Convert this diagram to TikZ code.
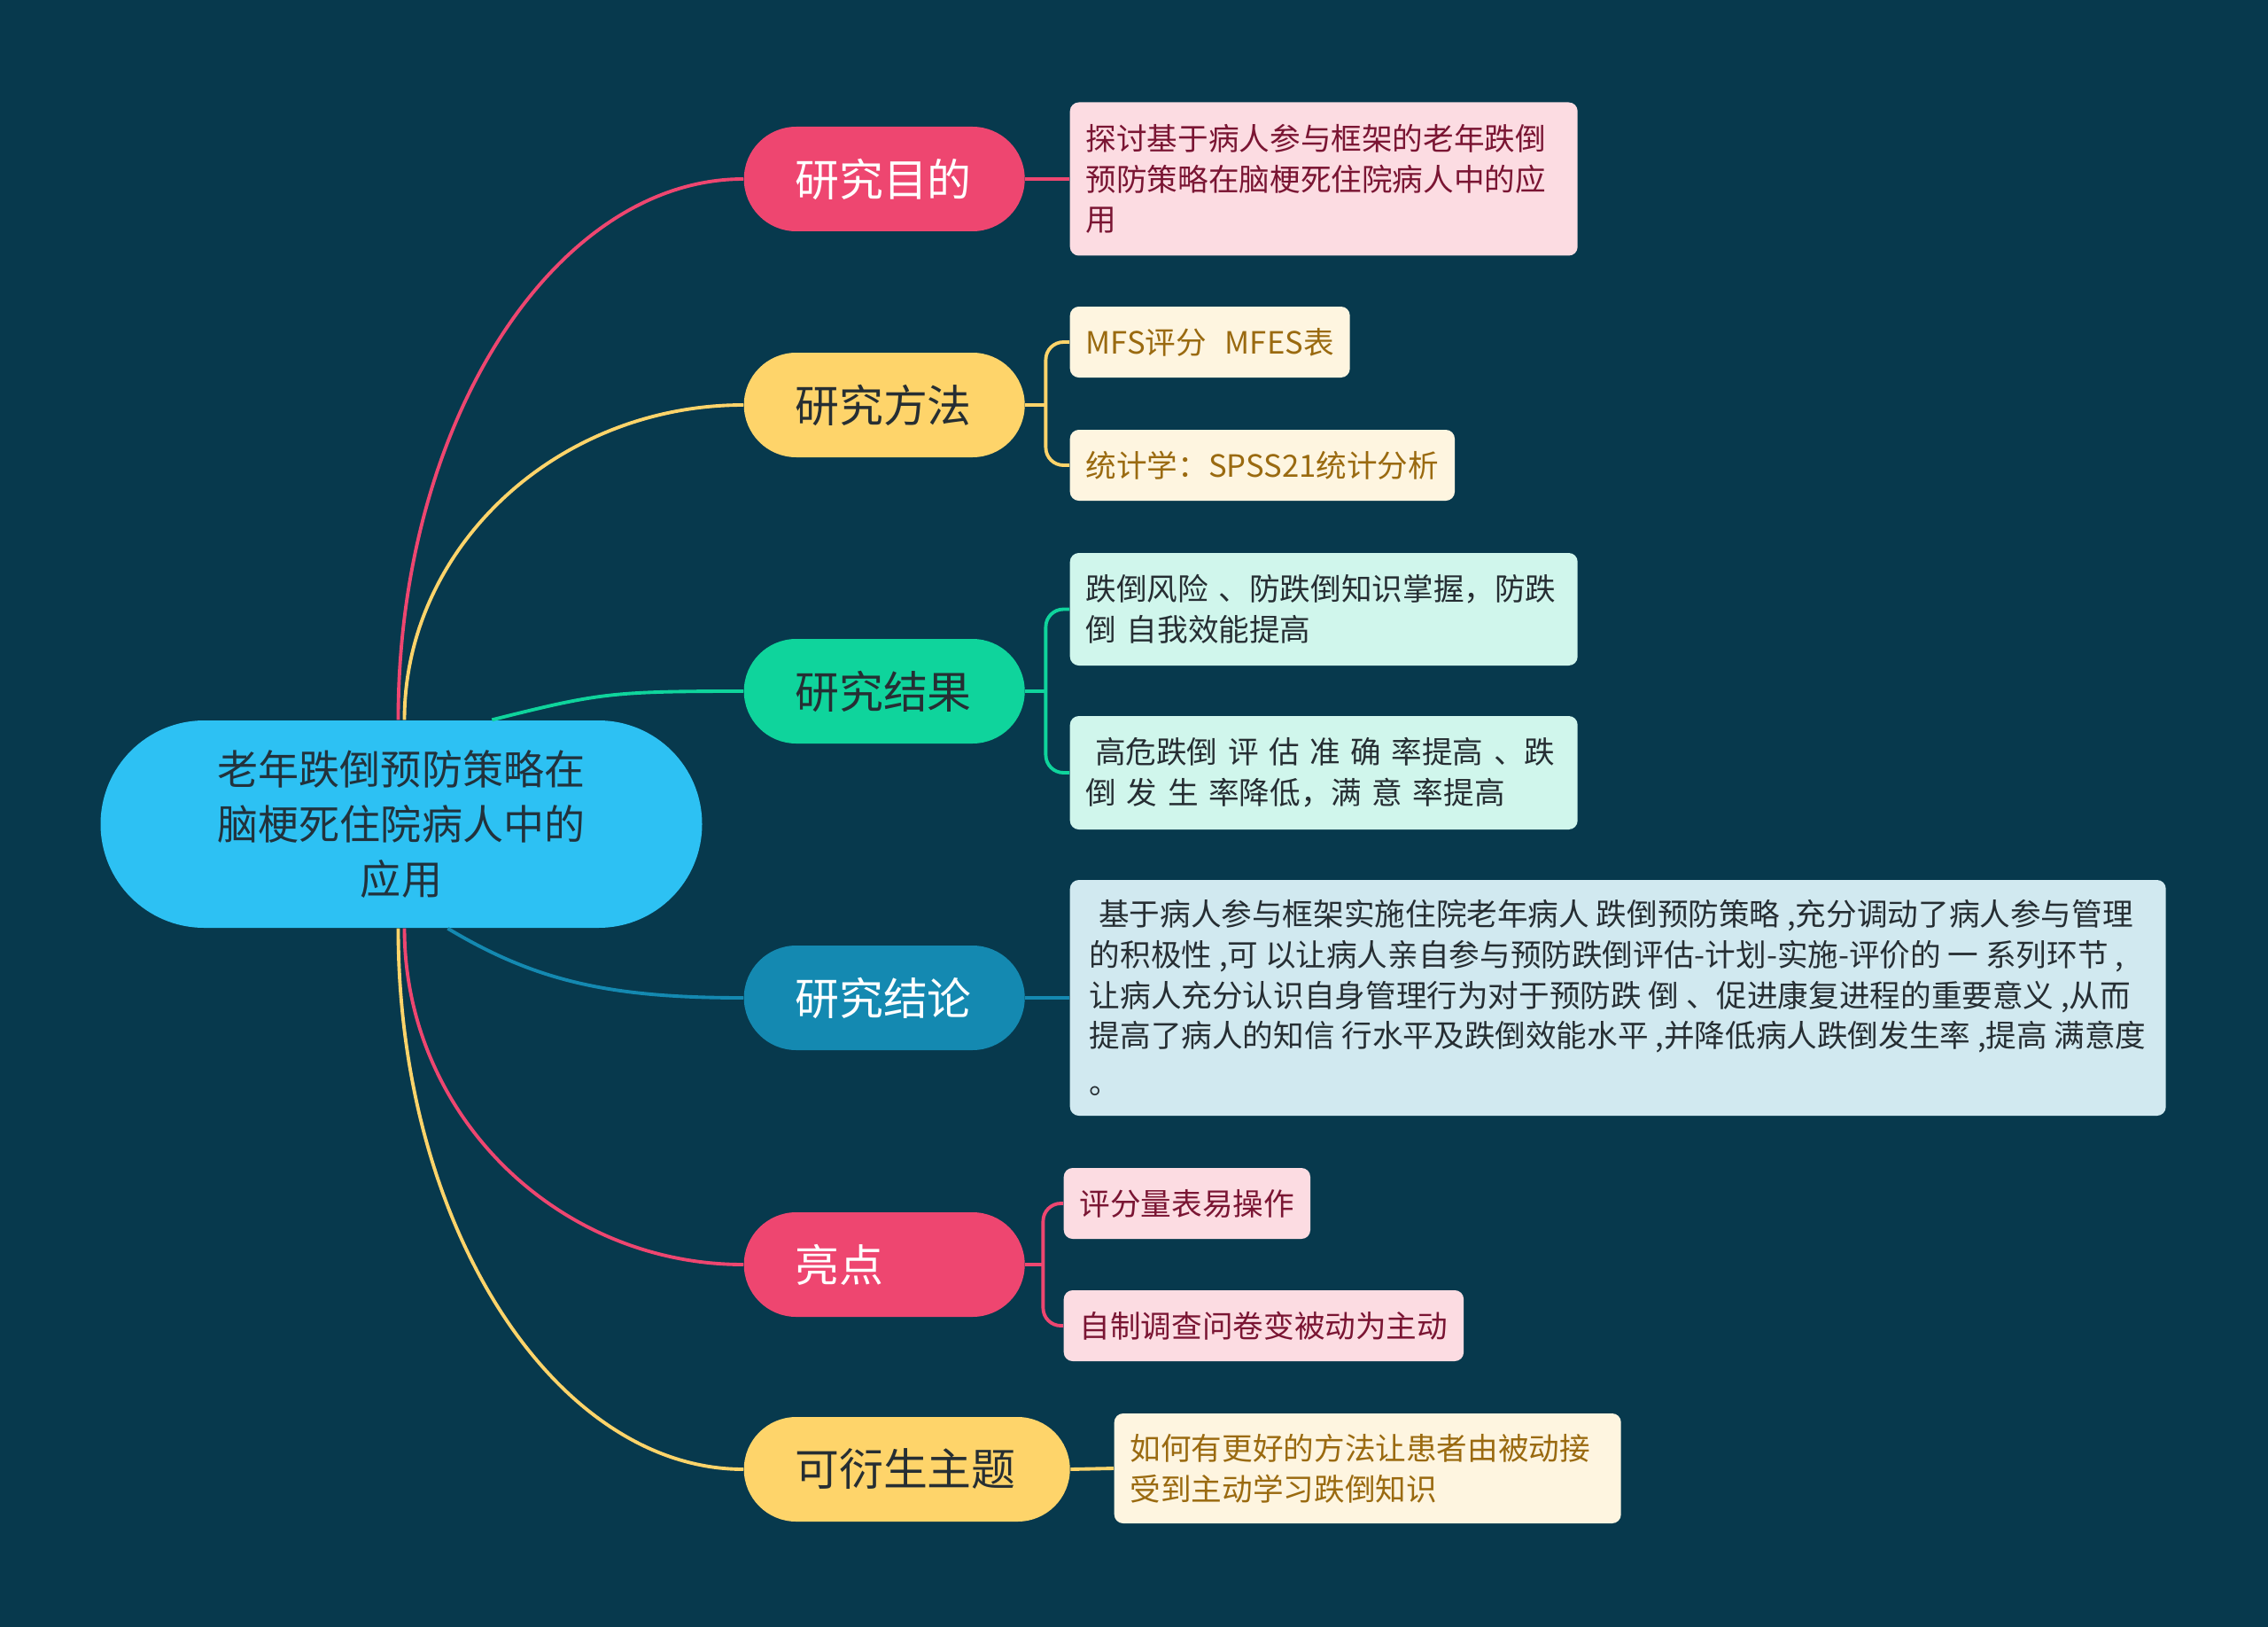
\documentclass[tikz,border=0pt]{standalone}
\usepackage{fontspec}
\usepackage{tikz}
\newfontfamily\cjk{Noto Sans CJK SC}

\definecolor{bgc}{HTML}{07394D}
\definecolor{rootc}{HTML}{2DC1F3}
\definecolor{roottext}{HTML}{22323C}
\definecolor{pinkc}{HTML}{EE4670}
\definecolor{yellowc}{HTML}{FED46A}
\definecolor{greenc}{HTML}{0FD49C}
\definecolor{bluec}{HTML}{1489B1}
\definecolor{darktext}{HTML}{262E33}
\definecolor{pinkleaf}{HTML}{FCDCE2}
\definecolor{pinktext}{HTML}{7A1533}
\definecolor{creamleaf}{HTML}{FEF5E0}
\definecolor{creamtext}{HTML}{9A6A10}
\definecolor{mintleaf}{HTML}{D0F6EC}
\definecolor{blueleaf}{HTML}{D1E9F0}

\tikzset{
  mm root/.style={fill=rootc,text=roottext,rounded corners=1.17cm,minimum width=6.79cm,minimum height=2.34cm,inner sep=0pt,align=center,font=\cjk\fontsize{13.1}{17.6}\selectfont},
  mm branch/.style={rounded corners=0.59cm,minimum height=1.18cm,text width=2.02cm,inner xsep=0.575cm,inner ysep=0pt,align=left,anchor=west,font=\cjk\fontsize{14.2}{17}\selectfont},
  mm leaf/.style={rounded corners=0.1cm,inner xsep=0.18cm,inner ysep=0.1cm,minimum height=0.8cm,align=left,anchor=west,font=\cjk\fontsize{9.85}{13}\selectfont},
  mm link/.style={line width=1.1pt},
  pink leaf/.style={mm leaf,fill=pinkleaf,text=pinktext},
  cream leaf/.style={mm leaf,fill=creamleaf,text=creamtext},
}

\begin{document}
\begin{tikzpicture}
  \useasboundingbox (0,0) rectangle (25.6,-18.36);
  \fill[bgc] (0,0) rectangle (25.6,-18.36);

  %centre
  \node[mm root,at={(4.53,-9.30)}] (c) {老年跌倒预防策略在\\脑梗死住院病人中的\\应用};

  %branches
  \node[mm branch,fill=pinkc,text=white,at={(8.39,-2.02)}] (m1) {研究目的};
  \node[mm branch,fill=yellowc,text=darktext,at={(8.39,-4.57)}] (m2) {研究方法};
  \node[mm branch,fill=greenc,text=darktext,at={(8.39,-7.80)}] (m3) {研究结果};
  \node[mm branch,fill=bluec,text=white,at={(8.39,-11.26)}] (m4) {研究结论};
  \node[mm branch,fill=pinkc,text=white,at={(8.39,-14.27)}] (m5) {亮点};
  \node[mm branch,fill=yellowc,text=darktext,text width=2.53cm,at={(8.39,-16.58)}] (m6) {可衍生主题};

  %leaves
  \node[pink leaf,text width=5.37cm,minimum height=1.73cm,at={(12.07,-2.02)}] (l1) {探讨基于病人参与框架的老年跌倒\\预防策略在脑梗死住院病人中的应\\用};
  \node[cream leaf,at={(12.07,-3.86)}] (l2) {MFS评分\hspace{0.6em}MFES表};
  \node[cream leaf,at={(12.07,-5.25)}] (l3) {统计学：SPSS21统计分析};
  \node[mm leaf,fill=mintleaf,text=darktext,text width=5.37cm,minimum height=1.27cm,at={(12.07,-6.875)}] (l4) {跌倒风险 、防跌倒知识掌握，防跌\\倒 自我效能提高};
  \node[mm leaf,fill=mintleaf,text=darktext,text width=5.37cm,minimum height=1.28cm,at={(12.07,-8.72)}] (l5) {\hspace*{.3em}高危跌倒 评 估 准 确 率提高 、跌\\倒 发 生 率降低，满 意 率提高};
  \node[mm leaf,fill=blueleaf,text=darktext,minimum width=12.37cm,minimum height=2.66cm,at={(12.07,-11.26)}] (l6) {\hspace*{.3em}基于病人参与框架实施住院老年病人 跌倒预防策略 ,充分调动了病人参与管理\\的积极性 ,可 以让病人亲自参与预防跌倒评估-计划-实施-评价的 一 系列环节 ,\\让病人充分认识自身管理行为对于预防跌 倒 、促进康复进程的重要意义 ,从而\\提高了病人的知信 行水平及跌倒效能水平 ,并降低病人跌倒发生率 ,提高 满意度\\[2pt]。};
  \node[pink leaf,at={(12.00,-13.58)}] (l7) {评分量表易操作};
  \node[pink leaf,at={(12.00,-14.96)}] (l8) {自制调查问卷变被动为主动};
  \node[cream leaf,text width=5.36cm,minimum height=1.24cm,at={(12.57,-16.57)}] (l9) {如何有更好的方法让患者由被动接\\受到主动学习跌倒知识};

  %centre to branches
  \draw[mm link,pinkc] ([xshift=-1pt]c.north) .. controls +(0,3.4) and +(-2.1,0) .. (m1.west);
  \draw[mm link,yellowc] ([xshift=1pt]c.north) .. controls +(0,1.95) and +(-2.1,0) .. (m2.west);
  \draw[mm link,greenc] (c.49) .. controls +(1.2,0.3) and +(-1.5,0) .. (m3.west);
  \draw[mm link,bluec] (c.-66) .. controls +(1.0,-0.6) and +(-1.5,0) .. (m4.west);
  \draw[mm link,pinkc] ([xshift=1pt]c.south) .. controls +(0,-2.1) and +(-2.1,0) .. (m5.west);
  \draw[mm link,yellowc] ([xshift=-1pt]c.south) .. controls +(0,-3.4) and +(-2.1,0) .. (m6.west);

  %branches to leaves
  \draw[mm link,pinkc] (m1.east) -- (l1.west);
  \draw[mm link,yellowc] (m2.east) -- ++(0.23,0) coordinate (j2);
  \draw[mm link,yellowc,rounded corners=0.2cm] (j2) |- (l2.west) (j2) |- (l3.west);
  \draw[mm link,greenc] (m3.east) -- ++(0.23,0) coordinate (j3);
  \draw[mm link,greenc,rounded corners=0.2cm] (j3) |- (l4.west) (j3) |- (l5.west);
  \draw[mm link,bluec] (m4.east) -- (l6.west);
  \draw[mm link,pinkc] (m5.east) -- ++(0.2,0) coordinate (j5);
  \draw[mm link,pinkc,rounded corners=0.2cm] (j5) |- (l7.west) (j5) |- (l8.west);
  \draw[mm link,yellowc] (m6.east) -- (l9.west);
\end{tikzpicture}
\end{document}
